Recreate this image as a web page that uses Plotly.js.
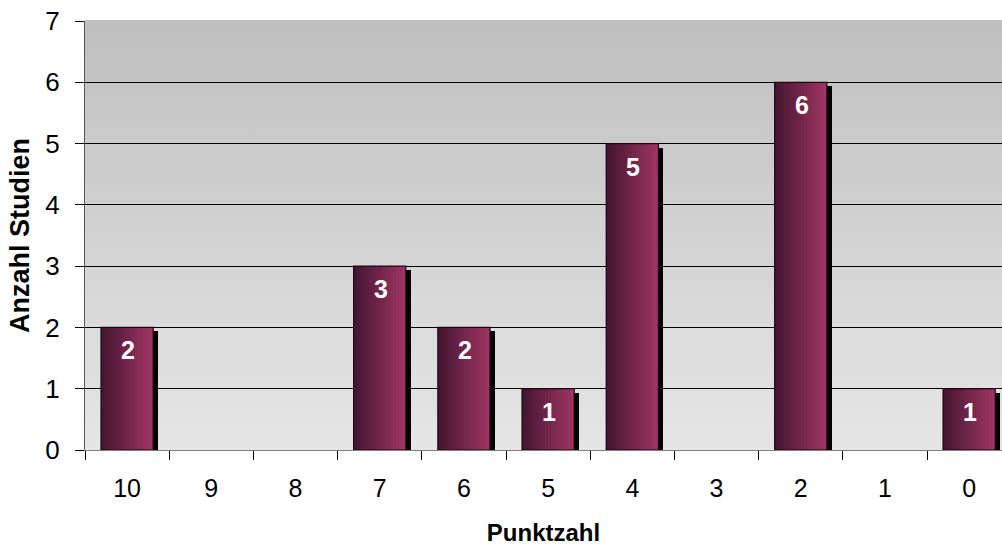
<!DOCTYPE html>
<html>
<head>
<meta charset="utf-8">
<script src="https://cdn.plot.ly/plotly-3.0.1.min.js"></script>
<style>html,body{margin:0;padding:0;background:#fff}#chart{width:1002px;height:546px}</style>
</head>
<body>
<div id="chart"></div>
<script>
var categories = ["10","9","8","7","6","5","4","3","2","1","0"];
var counts = [2,0,0,3,2,1,5,0,6,0,1];
var xTitle = "Punktzahl";
var yTitle = "Anzahl Studien";

var FONT = 'Liberation Sans, Arial, sans-serif';
var barW = 0.62;
var nStrips = 16;
var cLeft = [70,22,50], cRight = [158,52,98];
function lerp(a,b,t){return Math.round(a+(b-a)*t);}
var drawVals = counts.map(function(v){return v>0?v:null;});
var traces = [];
// shadow
traces.push({
  type:'bar', x:categories, y:counts.map(function(v){return v>0?v-0.065:null;}),
  width:barW, offset:-barW/2+0.06, marker:{color:'#000', line:{width:0}},
  hoverinfo:'skip', showlegend:false
});
for (var i=0;i<nStrips;i++){
  var t = i/(nStrips-1);
  var col = 'rgb('+lerp(cLeft[0],cRight[0],t)+','+lerp(cLeft[1],cRight[1],t)+','+lerp(cLeft[2],cRight[2],t)+')';
  traces.push({
    type:'bar', x:categories, y:drawVals, width:barW/nStrips*1.05,
    offset:-barW/2 + i*barW/nStrips,
    marker:{color:col, line:{width:0}}, hoverinfo:'skip', showlegend:false
  });
}
traces.push({
  type:'bar', x:categories, y:drawVals, width:barW, offset:-barW/2,
  marker:{color:'rgba(0,0,0,0)', line:{width:1.2, color:'#1a0a10'}},
  hoverinfo:'skip', showlegend:false
});

var annotations = [];
categories.forEach(function(c, k){
  if (counts[k] > 0) {
    annotations.push({x:k, y:counts[k], xref:'x', yref:'y', text:String(counts[k]),
      showarrow:false, yanchor:'middle', xanchor:'center', yshift:-23, xshift:1,
      font:{family:FONT, size:25, color:'#fff', weight:'bold'}});
  }
});

var bg = "data:image/svg+xml;utf8," + encodeURIComponent(
 '<svg xmlns="http://www.w3.org/2000/svg" width="10" height="100" preserveAspectRatio="none"><defs><linearGradient id="g" x1="0" y1="0" x2="0" y2="1"><stop offset="0" stop-color="#bfbfbf"/><stop offset="1" stop-color="#e6e6e6"/></linearGradient></defs><rect width="10" height="100" fill="url(#g)"/></svg>');

var layout = {
  width:1002, height:546,
  margin:{l:85, r:0, t:21, b:96},
  paper_bgcolor:'#ffffff', plot_bgcolor:'rgba(0,0,0,0)',
  barmode:'overlay', bargap:0,
  font:{family:FONT, color:'#000'},
  images:[{source:bg, xref:'paper', yref:'paper', x:0, y:1, sizex:1, sizey:1, sizing:'stretch', layer:'below', xanchor:'left', yanchor:'top'}],
  shapes:[{type:'line', xref:'paper', yref:'paper', x0:0, x1:1, y0:1, y1:1, line:{color:'#bfbfbf', width:2}, layer:'above'}],
  annotations:annotations,
  xaxis:{
    type:'category', categoryorder:'array', categoryarray:categories,
    range:[-0.5, 10.39], tickson:'boundaries', ticks:'outside', ticklen:9, tickcolor:'#000', tickwidth:1,
    showline:true, linecolor:'#808080', linewidth:1, showgrid:false, zeroline:false,
    tickfont:{size:25}, ticklabelstandoff:16,
    title:{text:xTitle, font:{size:24, weight:'bold'}, standoff:28},
    fixedrange:true
  },
  yaxis:{
    range:[0,7], dtick:1, ticks:'outside', ticklen:9, tickcolor:'#000', tickwidth:1,
    showline:true, linecolor:'#555', linewidth:1, showgrid:true, gridcolor:'#000', gridwidth:1,
    zeroline:false, tickfont:{size:26}, ticklabelstandoff:10,
    title:{text:yTitle, font:{size:27, weight:'bold'}, standoff:7}, fixedrange:true
  }
};
Plotly.newPlot('chart', traces, layout, {displayModeBar:false, staticPlot:true});
</script>
</body>
</html>
